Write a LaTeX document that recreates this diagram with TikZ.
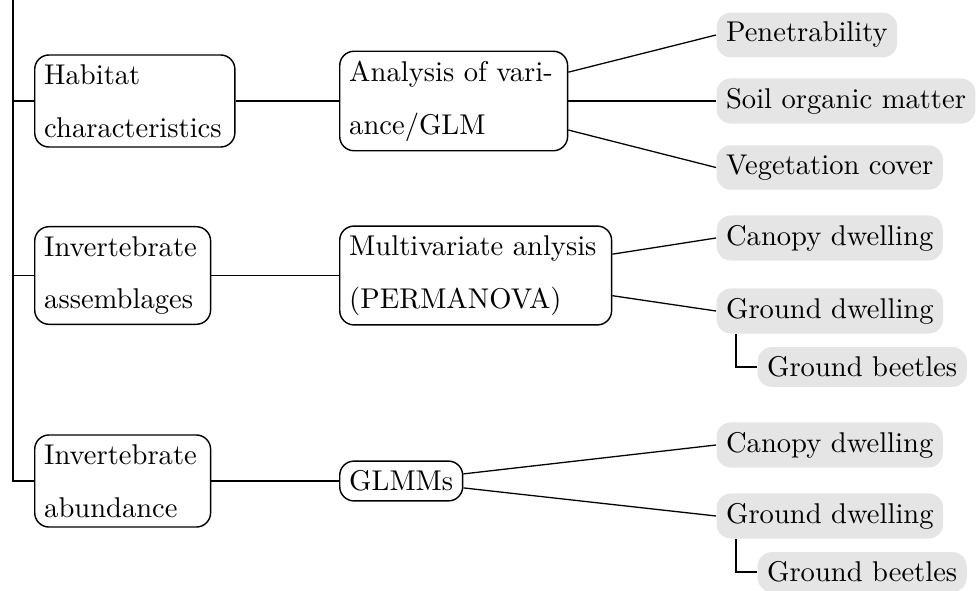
\documentclass[tikz,border=0pt]{standalone}
\usetikzlibrary{calc}
\begin{document}
\begin{tikzpicture}[x=0.35pt,y=-0.35pt,
  every node/.style={font=\fontsize{10}{18.5}\selectfont, inner sep=3.33pt},
  box/.style={draw, rounded corners=5pt, align=left, anchor=west, line width=0.5pt},
  leaf/.style={fill=black!10, rounded corners=5pt, anchor=west},
  conn/.style={line width=0.45pt}]
\useasboundingbox (0,0) rectangle (980,590);
% first level
\node[box, text width=63.4pt] (hab) at (34,101) {Habitat\\characteristics};
\node[box, text width=54.9pt] (ias) at (34,275.5) {Invertebrate\\assemblages};
\node[box, text width=54.9pt] (iab) at (34,481) {Invertebrate\\abundance};
% second level
\node[box, text width=73.1pt] (anv) at (339,101) {Analysis of vari-\\ance/GLM};
\node[box, text width=88.5pt] (mva) at (339,275.5) {Multivariate anlysis\\(PERMANOVA)};
\node[box] (glm) at (339,481) {GLMMs};
% leaves
\node[leaf] (pen) at (716,35) {Penetrability};
\node[leaf] (som) at (716,101) {Soil organic matter};
\node[leaf] (veg) at (716,167.5) {Vegetation cover};
\node[leaf] (cd1) at (716,238) {Canopy dwelling};
\node[leaf] (gd1) at (716,311) {Ground dwelling};
\node[leaf] (gb1) at (757,367) {Ground beetles};
\node[leaf] (cd2) at (716,445) {Canopy dwelling};
\node[leaf] (gd2) at (716,516) {Ground dwelling};
\node[leaf] (gb2) at (757,572) {Ground beetles};
% root trunk
\coordinate (root) at (13,0);
\draw[conn] (root) |- (iab.west);
\draw[conn] (root |- hab.west) -- (hab.west);
\draw[conn] (root |- ias.west) -- (ias.west);
% level 1 -> level 2
\draw[conn] (hab.east) -- (anv.west);
\draw[conn] (ias.east) -- (mva.west);
\draw[conn] (iab.east) -- (glm.west);
% level 2 -> leaves
\draw[conn] (anv) -- (pen.west);
\draw[conn] (anv) -- (som.west);
\draw[conn] (anv) -- (veg.west);
\draw[conn] (mva) -- (cd1.west);
\draw[conn] (mva) -- (gd1.west);
\draw[conn] (glm) -- (cd2.west);
\draw[conn] (glm) -- (gd2.west);
% sub-leaves
\draw[conn] ($(gd1.south west)+(20,0)$) |- (gb1.west);
\draw[conn] ($(gd2.south west)+(20,0)$) |- (gb2.west);
\end{tikzpicture}
\end{document}
